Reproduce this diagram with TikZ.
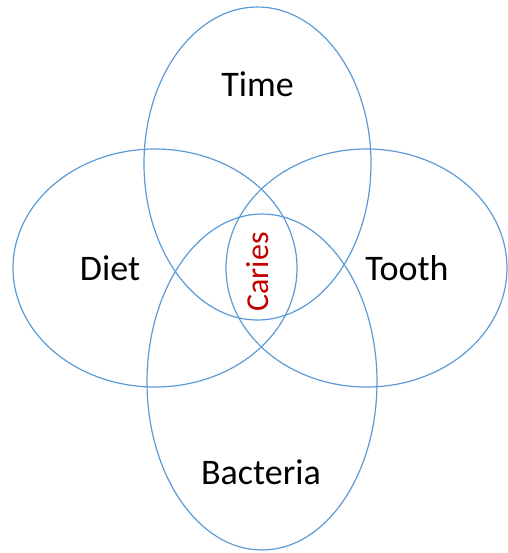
\documentclass[tikz,border=0pt]{standalone}
\usepackage{fontspec}
\setmainfont{Carlito}
\usetikzlibrary{positioning}
\definecolor{setblue}{RGB}{91,155,213}
\definecolor{cariesred}{RGB}{192,0,0}

\begin{document}
\begin{tikzpicture}[
      x=0.5pt, y=-0.5pt,
      set/.style={draw=setblue, line width=0.6pt},
      label/.style={anchor=base, inner sep=0pt, font=\fontsize{18}{20}\selectfont},
      core/.style={label, rotate=90, text=cariesred, font=\fontsize{16}{18}\selectfont},
    ]
    \useasboundingbox (0,0) rectangle (508,553);
    % the four overlapping sets
    \draw[set] (257.5,163.5) ellipse [x radius=56.75pt, y radius=78.25pt];
    \draw[set] (155,268) ellipse [x radius=71pt, y radius=59.5pt];
    \draw[set] (366.5,268) ellipse [x radius=70.25pt, y radius=59.5pt];
    \draw[set] (262,382) ellipse [x radius=57.5pt, y radius=84pt];
    % labels
    \node[label] (time) at (257.5,96) {Time};
    \node[label] (diet) at (110,280) {Diet};
    \node[label] (tooth) at (407,280) {Tooth};
    \node[label] (bacteria) at (261,484) {Bacteria};
    \node[core] (caries) at (268,272) {Caries};
  \end{tikzpicture}
\end{document}
